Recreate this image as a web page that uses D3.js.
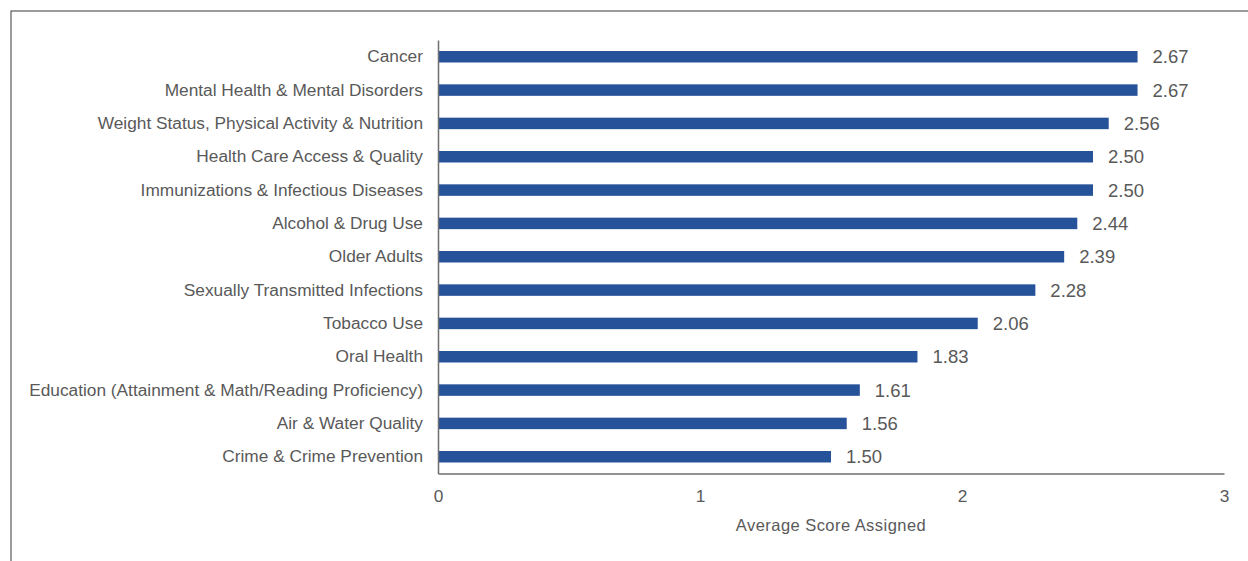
<!DOCTYPE html>
<html><head><meta charset="utf-8">
<script src="https://cdn.jsdelivr.net/npm/d3@7"></script>
<style>body{margin:0;background:#fff;}svg{display:block;}</style>
</head><body>
<svg id="c" width="1248" height="561"></svg>
<script>
const categories = ["Cancer","Mental Health & Mental Disorders","Weight Status, Physical Activity & Nutrition","Health Care Access & Quality","Immunizations & Infectious Diseases","Alcohol & Drug Use","Older Adults","Sexually Transmitted Infections","Tobacco Use","Oral Health","Education (Attainment & Math/Reading Proficiency)","Air & Water Quality","Crime & Crime Prevention"];
const values = [2.67,2.67,2.56,2.50,2.50,2.44,2.39,2.28,2.06,1.83,1.61,1.56,1.50];
const xTicks = [0,1,2,3];
const xTitle = "Average Score Assigned";

const svg = d3.select("#c");
const font = "'Liberation Sans', Arial, sans-serif";
const textColor = "#595959";
const axisColor = "#6e6e6e";
const barColor = "#26529A";

svg.append("rect").attr("x",11).attr("y",11).attr("width",1250).attr("height",560)
  .attr("fill","none").attr("stroke","#595959").attr("stroke-width",1.2);

const x = d3.scaleLinear().domain([0,3]).range([438,1224]);
const y = d3.scaleBand().domain(categories).range([40,473.5]).paddingInner(0.655).paddingOuter(0.33);

svg.selectAll("rect.bar").data(values).join("rect").attr("class","bar")
  .attr("x",x(0)).attr("y",(d,i)=>y(categories[i]))
  .attr("width",d=>x(d)-x(0)).attr("height",y.bandwidth()).attr("fill",barColor);

svg.selectAll("text.val").data(values).join("text").attr("class","val")
  .attr("x",d=>x(d)+15).attr("y",(d,i)=>y(categories[i])+y.bandwidth()/2)
  .attr("dy","0.36em").attr("font-family",font).attr("font-size",18.5).attr("fill",textColor)
  .text(d=>d.toFixed(2));

const yAxis = svg.append("g").attr("transform",`translate(${x(0)},0)`)
  .call(d3.axisLeft(y).tickSize(0).tickPadding(15));
yAxis.select(".domain").attr("stroke",axisColor).attr("stroke-width",1.5);
yAxis.selectAll("text").attr("font-family",font).attr("font-size",17.3).attr("fill",textColor);

const xAxis = svg.append("g").attr("transform",`translate(0,473.5)`)
  .call(d3.axisBottom(x).tickValues(xTicks).tickFormat(d3.format("d")).tickSize(0).tickPadding(16));
xAxis.select(".domain").attr("stroke",axisColor).attr("stroke-width",1.5);
xAxis.selectAll("text").attr("font-family",font).attr("font-size",17.3).attr("fill",textColor);

svg.append("text").attr("x",(x(0)+x(3))/2).attr("y",531).attr("text-anchor","middle")
  .attr("font-family",font).attr("font-size",16.5).attr("letter-spacing",0.45).attr("fill",textColor).text(xTitle);
</script>
</body></html>
